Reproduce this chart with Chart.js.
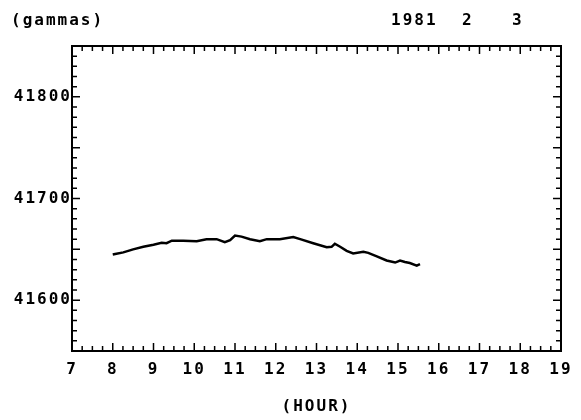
<!DOCTYPE html>
<html>
<head>
<meta charset="utf-8">
<script src="https://cdn.jsdelivr.net/npm/chart.js@4/dist/chart.umd.min.js"></script>
<style>
  html, body { margin: 0; padding: 0; background: #fff; }
  #wrap { width: 581px; height: 420px; position: relative; }
</style>
</head>
<body>
<div id="wrap"><canvas id="mag"></canvas></div>
<script>
// ===== Data =====
const hours = [8.0, 8.06, 8.26, 8.5, 8.75, 9.0, 9.2, 9.32, 9.45, 9.73, 10.06, 10.3, 10.55, 10.75, 10.88, 11.0,
  11.16, 11.37, 11.61, 11.78, 12.1, 12.43, 12.6, 12.92, 13.25, 13.37, 13.45, 13.58, 13.74, 13.9, 14.15,
  14.27, 14.48, 14.72, 14.93, 15.05, 15.17, 15.29, 15.46, 15.54];
const gammas = [41645, 41645.5, 41647, 41650, 41652.5, 41654.5, 41656.5, 41656, 41658.5, 41658.5, 41658,
  41660, 41660, 41657, 41659, 41663.5, 41662.5, 41660, 41658, 41660, 41660, 41662, 41660, 41656, 41652,
  41652.5, 41655.5, 41652.5, 41648.5, 41646, 41647.5, 41646.5, 41643, 41639, 41637, 41639, 41637.5,
  41636.5, 41634, 41635.5];
const hourTicks = [7, 8, 9, 10, 11, 12, 13, 14, 15, 16, 17, 18, 19];
const gammaTicks = [41600, 41700, 41800];
const dateParts = ["1981", "2", "3"];

const FONT = "'DejaVu Sans Mono', 'Liberation Mono', monospace";

// ===== Frame, inward ticks and header text =====
const framePlugin = {
  id: 'frame',
  beforeDraw(chart) {
    chart.ctx.letterSpacing = '2px';
  },
  afterDraw(chart) {
    const { ctx, chartArea: a, scales: { x, y } } = chart;
    ctx.save();
    ctx.strokeStyle = '#000';
    ctx.lineWidth = 2;
    ctx.strokeRect(a.left, a.top, a.right - a.left, a.bottom - a.top);

    ctx.lineWidth = 1.5;
    ctx.beginPath();
    for (let v = y.min; v <= y.max; v += 10) {
      const p = y.getPixelForValue(v);
      const len = v % 50 === 0 ? 8 : 5;
      ctx.moveTo(a.left, p); ctx.lineTo(a.left + len, p);
      ctx.moveTo(a.right, p); ctx.lineTo(a.right - len, p);
    }
    for (let h = x.min; h <= x.max + 0.001; h += 0.25) {
      const p = x.getPixelForValue(h);
      const len = Math.abs(h - Math.round(h)) < 0.01 ? 8 : 5;
      ctx.moveTo(p, a.bottom); ctx.lineTo(p, a.bottom - len);
      ctx.moveTo(p, a.top); ctx.lineTo(p, a.top + len);
    }
    ctx.stroke();

    ctx.fillStyle = '#000';
    ctx.font = "bold 16px " + FONT;
    ctx.letterSpacing = '2px';
    ctx.textBaseline = 'middle';
    ctx.textAlign = 'left';
    ctx.fillText('(gammas)', 11, 21);
    ctx.fillText(dateParts[0], 391, 21);
    ctx.fillText(dateParts[1], 462, 21);
    ctx.fillText(dateParts[2], 512, 21);
    ctx.restore();
  }
};

const tickFont = { family: FONT, size: 16, weight: 'bold' };

new Chart(document.getElementById('mag'), {
  type: 'line',
  data: {
    datasets: [{
      data: hours.map((h, i) => ({ x: h, y: gammas[i] })),
      borderColor: '#000',
      borderWidth: 2.5,
      pointRadius: 0,
      tension: 0,
      fill: false
    }]
  },
  options: {
    responsive: true,
    maintainAspectRatio: false,
    animation: false,
    devicePixelRatio: 1,
    layout: { padding: { top: 46, right: 20, left: 0, bottom: 0 } },
    plugins: { legend: { display: false }, tooltip: { enabled: false } },
    scales: {
      x: {
        type: 'linear',
        min: 7,
        max: 19,
        grid: { display: false, drawTicks: false },
        border: { display: false },
        afterBuildTicks: s => { s.ticks = hourTicks.map(v => ({ value: v })); },
        afterFit: s => { s.height = 69; },
        ticks: { color: '#000', font: tickFont, padding: 9, maxRotation: 0, autoSkip: false, callback: v => String(v) },
        title: { display: true, text: '(HOUR)', color: '#000', font: tickFont, padding: { top: 16 } }
      },
      y: {
        min: 41550,
        max: 41850,
        grid: { display: false, drawTicks: false },
        border: { display: false },
        afterBuildTicks: s => { s.ticks = gammaTicks.map(v => ({ value: v })); },
        afterFit: s => { s.width = 72; },
        ticks: { color: '#000', font: tickFont, padding: 0, callback: v => String(v) }
      }
    }
  },
  plugins: [framePlugin]
});
</script>
</body>
</html>
